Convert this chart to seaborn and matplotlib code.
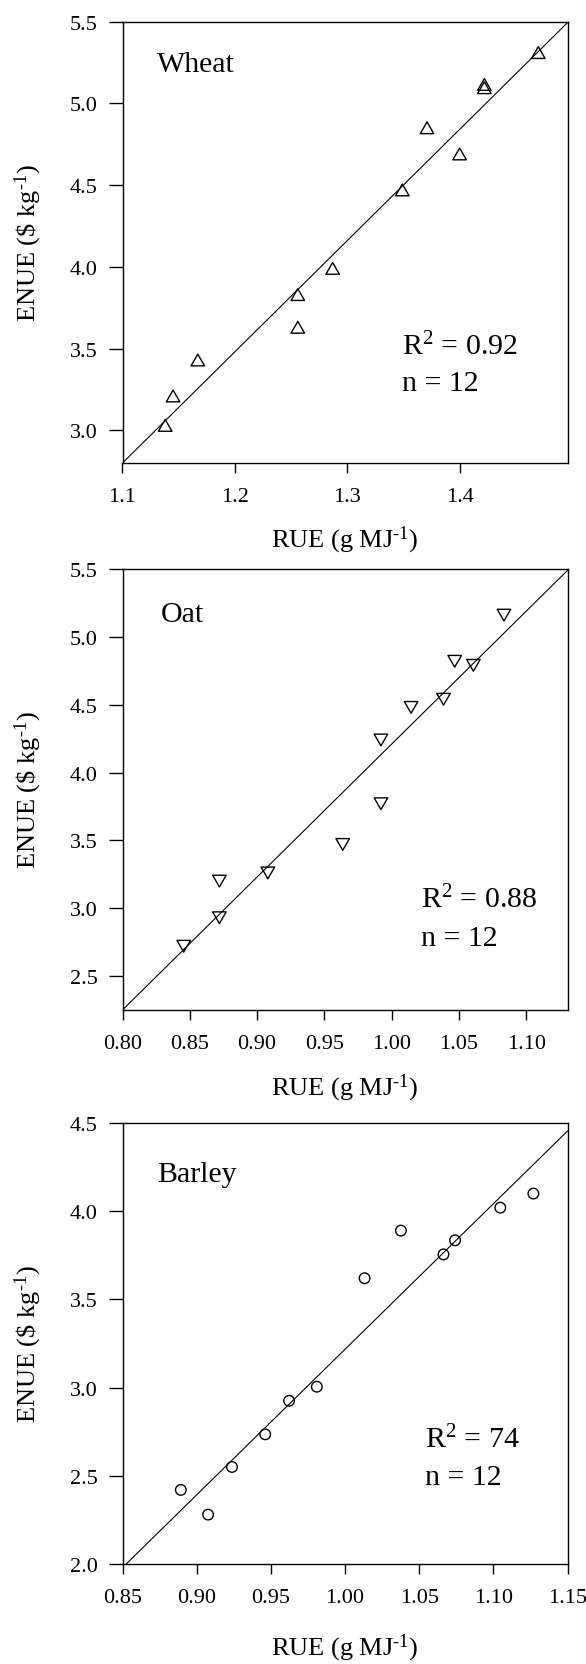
import numpy as np
import pandas as pd
import matplotlib
matplotlib.use("Agg")
import matplotlib.pyplot as plt
import matplotlib.path as mpath
from matplotlib.markers import MarkerStyle
from matplotlib.ticker import FormatStrFormatter
import seaborn as sns

# ---------------- data ----------------
crops = ["Wheat", "Oat", "Barley"]

wheat_rue = [1.138, 1.145, 1.167, 1.256, 1.256, 1.287, 1.349, 1.371, 1.400, 1.422, 1.422, 1.470]
wheat_enue = [3.03, 3.21, 3.43, 3.83, 3.63, 3.99, 4.47, 4.85, 4.69, 5.115, 5.095, 5.31]

oat_rue = [0.8455, 0.872, 0.872, 0.908, 0.9636, 0.992, 0.992, 1.0144, 1.0385, 1.0468, 1.0607, 1.0834]
oat_enue = [2.72, 2.93, 3.20, 3.26, 3.47, 3.77, 4.24, 4.48, 4.54, 4.82, 4.79, 5.16]

barley_rue = [0.8893, 0.9077, 0.9238, 0.9462, 0.9623, 0.981, 1.0132, 1.0377, 1.0664, 1.0742, 1.1047, 1.127]
barley_enue = [2.42, 2.28, 2.55, 2.735, 2.925, 3.005, 3.62, 3.89, 3.755, 3.835, 4.02, 4.10]

fit_slopes = [6.80, 9.80, 8.25]
fit_intercepts = [-4.68, -5.59, -5.033]

r2_labels = ["0.92", "0.88", "74"]
n_labels = ["12", "12", "12"]

x_ticks = [[1.1, 1.2, 1.3, 1.4],
           [0.80, 0.85, 0.90, 0.95, 1.00, 1.05, 1.10],
           [0.85, 0.90, 0.95, 1.00, 1.05, 1.10, 1.15]]
y_ticks = [[3.0, 3.5, 4.0, 4.5, 5.0, 5.5],
           [2.5, 3.0, 3.5, 4.0, 4.5, 5.0, 5.5],
           [2.0, 2.5, 3.0, 3.5, 4.0, 4.5]]
x_fmt = ["%.1f", "%.2f", "%.2f"]
x_limits = [(1.1, 1.496), (0.80, 1.1306), (0.85, 1.15)]
y_limits = [(2.8, 5.5), (2.25, 5.5), (2.0, 4.5)]

# ---------------- style ----------------
sns.set_theme(style="ticks")
plt.rcParams["font.family"] = ["Liberation Serif", "DejaVu Serif"]
plt.rcParams["mathtext.fontset"] = "custom"
plt.rcParams["mathtext.rm"] = "Liberation Serif"
plt.rcParams["mathtext.it"] = "Liberation Serif:italic"
plt.rcParams["mathtext.bf"] = "Liberation Serif:bold"

W, H = 586, 1665
fig = plt.figure(figsize=(W / 100, H / 100), dpi=100)

left_px, right_px = 122.5, 567.5
panels_px = [(22.5, 464.0), (570.0, 1011.0), (1124.0, 1565.0)]

# marker shapes
up_tri = MarkerStyle(mpath.Path([(0, 0.433), (-0.5, -0.433), (0.5, -0.433), (0, 0.433)], closed=True))
down_tri = MarkerStyle(mpath.Path([(0, -0.433), (-0.5, 0.433), (0.5, 0.433), (0, -0.433)], closed=True))
markers = [up_tri, down_tri, "o"]
sizes = [95, 95, 58]

data_x = [wheat_rue, oat_rue, barley_rue]
data_y = [wheat_enue, oat_enue, barley_enue]

crop_text_pos = [(0.077, 0.889), (0.085, 0.881), (0.077, 0.868)]
r2_text_pos = [(0.628, 0.247), (0.671, 0.234), (0.679, 0.2655)]
n_text_pos = [(0.628, 0.166), (0.671, 0.148), (0.679, 0.181)]
xlabel_y = [-0.188, -0.1905, -0.205]

sup = r"$^{\text{-}1}$"

for i, crop in enumerate(crops):
    top, bot = panels_px[i]
    ax = fig.add_axes([left_px / W, 1 - bot / H, (right_px - left_px) / W, (bot - top) / H])
    df = pd.DataFrame({"RUE": data_x[i], "ENUE": data_y[i]})
    sns.scatterplot(data=df, x="RUE", y="ENUE", ax=ax, marker=markers[i], s=sizes[i],
                    facecolor="none", edgecolor="black", linewidth=1.0, zorder=3)
    for coll in ax.collections:
        coll.set_facecolor("none")
        coll.set_edgecolor("black")
        coll.set_linewidth(1.0)
    ax.axline((0, fit_intercepts[i]), slope=fit_slopes[i], color="black", lw=0.8, zorder=2)

    ax.set_xlim(*x_limits[i])
    ax.set_ylim(*y_limits[i])
    ax.set_xticks(x_ticks[i])
    ax.set_yticks(y_ticks[i])
    ax.xaxis.set_major_formatter(FormatStrFormatter(x_fmt[i]))
    ax.yaxis.set_major_formatter(FormatStrFormatter("%.1f"))
    ax.tick_params(axis="x", direction="out", length=7, width=1.0, pad=10.5,
                   labelsize=16, colors="black", top=False)
    ax.tick_params(axis="y", direction="out", length=10, width=1.0, pad=8,
                   labelsize=16, colors="black", right=False)
    for sp in ax.spines.values():
        sp.set_visible(True)
        sp.set_linewidth(1.0)
        sp.set_color("black")

    ax.set_xlabel("RUE (g MJ" + sup + ")", fontsize=19, color="black")
    ax.xaxis.label.set_va("baseline")
    ax.xaxis.set_label_coords(0.5, xlabel_y[i])
    ax.set_ylabel(r"ENUE (\$ kg" + sup + ")", fontsize=19, color="black")
    ax.yaxis.set_label_coords(-0.1764, 0.5)

    ax.text(*crop_text_pos[i], crop, transform=ax.transAxes, fontsize=21.5,
            ha="left", va="baseline", color="black")
    ax.text(*r2_text_pos[i], r"R$^2$ = " + r2_labels[i], transform=ax.transAxes,
            fontsize=21.5, ha="left", va="baseline", color="black")
    ax.text(*n_text_pos[i], "n = " + n_labels[i], transform=ax.transAxes,
            fontsize=21.5, ha="left", va="baseline", color="black")

fig.savefig("out.png", dpi=100, facecolor="white")
